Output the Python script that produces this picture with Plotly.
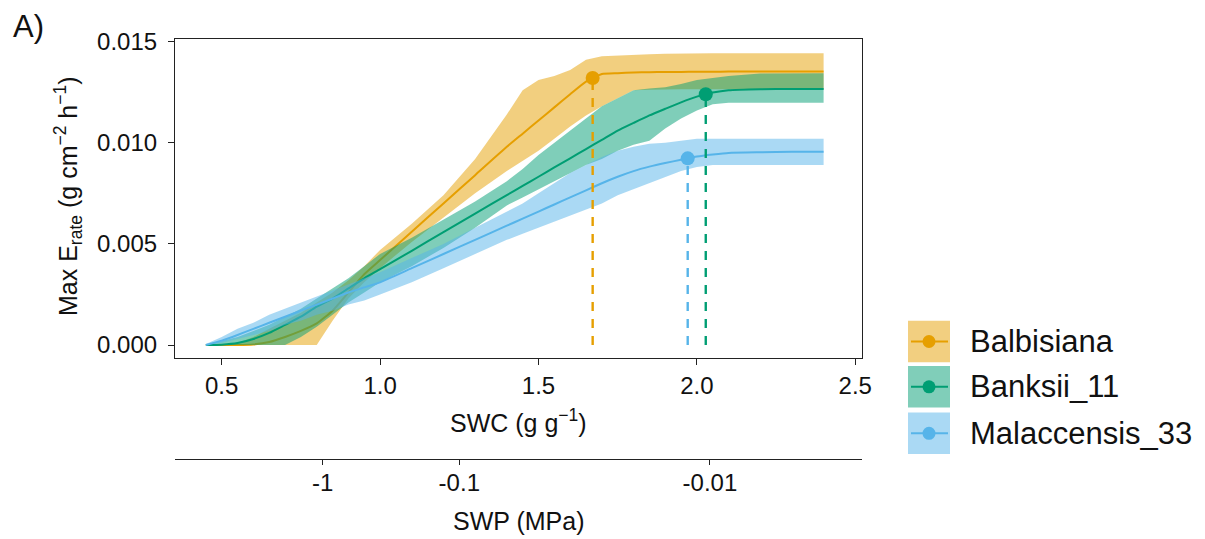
import plotly.graph_objects as go

# Soil water content grid (g g-1) shared by all fitted curves
swc = [0.45, 0.5, 0.55, 0.6, 0.65, 0.7, 0.75, 0.8, 0.85, 0.9, 0.95, 1.0,
       1.1, 1.2, 1.3, 1.4, 1.45, 1.5, 1.55, 1.6, 1.65, 1.7, 1.75, 1.8,
       1.85, 1.9, 1.95, 2.0, 2.05, 2.1, 2.2, 2.3, 2.4]

# Max transpiration rate (g cm-2 h-1): fit and confidence band per genotype
bal_lo = [0, 0, 0, 0, 0, 0, 0, 0, 0.0012, 0.0023, 0.0031, 0.0038,
          0.0051, 0.0063, 0.0075, 0.0086, 0.0091, 0.0096, 0.0102, 0.0108, 0.01135,
          0.0118, 0.0122, 0.0126, 0.01262, 0.01264, 0.01264, 0.01264, 0.01264,
          0.01264, 0.01264, 0.01264, 0.01264]
bal_fit = [0, 0, 0, 0.00003, 0.00015, 0.0004, 0.0007, 0.00107, 0.0017, 0.0026, 0.0035, 0.0042,
           0.0056, 0.0070, 0.0084, 0.0098, 0.01045, 0.0111, 0.01175, 0.0124, 0.01302,
           0.0134, 0.01344, 0.01347, 0.01349, 0.0135, 0.0135, 0.01351, 0.01351,
           0.01352, 0.01352, 0.01352, 0.01352]
bal_hi = [0, 0, 0.0001, 0.0004, 0.0008, 0.0012, 0.0016, 0.0021, 0.0026, 0.0032, 0.0039, 0.0047,
          0.0060, 0.0074, 0.0092, 0.0114, 0.0126, 0.0131, 0.0133, 0.0136, 0.0141,
          0.01428, 0.01432, 0.01435, 0.01438, 0.0144, 0.01442, 0.01443, 0.01443,
          0.01443, 0.01443, 0.01443, 0.01443]

ban_lo = [0, 0, 0, 0, 0, 0, 0.0004, 0.0009, 0.0015, 0.0021, 0.0026, 0.0031,
          0.0039, 0.0048, 0.0058, 0.0069, 0.0073, 0.0077, 0.0081, 0.0085, 0.0089,
          0.0092, 0.0096, 0.0099, 0.0101, 0.0107, 0.0112, 0.0116, 0.0119,
          0.01198, 0.01198, 0.01198, 0.01198]
ban_fit = [0, 0.00002, 0.0001, 0.0003, 0.0006, 0.0010, 0.0014, 0.0019, 0.0023, 0.0028, 0.0033, 0.00375,
           0.00466, 0.00558, 0.0065, 0.00741, 0.00787, 0.00832, 0.00878, 0.00923, 0.00969,
           0.01014, 0.0106, 0.01098, 0.01135, 0.01168, 0.0120, 0.01228, 0.01248,
           0.0126, 0.01265, 0.01266, 0.01266]
ban_hi = [0, 0.0002, 0.0004, 0.0007, 0.0010, 0.0014, 0.0018, 0.0023, 0.0028, 0.0033, 0.0039, 0.0045,
          0.0053, 0.0062, 0.0071, 0.0081, 0.0087, 0.0094, 0.0100, 0.0106, 0.0112,
          0.0118, 0.0122, 0.0126, 0.01268, 0.01275, 0.0129, 0.0131, 0.0132,
          0.0133, 0.01342, 0.01344, 0.01344]

mal_lo = [0, 0.0001, 0.0003, 0.0005, 0.0007, 0.0010, 0.0012, 0.0015, 0.0017, 0.0020, 0.0022, 0.0025,
          0.0031, 0.0038, 0.0045, 0.0052, 0.0055, 0.0058, 0.0061, 0.0064, 0.0067,
          0.0070, 0.0074, 0.0077, 0.0080, 0.0083, 0.0086, 0.0088, 0.0089,
          0.0089, 0.0089, 0.0089, 0.0089]
mal_fit = [0, 0.00022, 0.0005, 0.0008, 0.0011, 0.0014, 0.0017, 0.0020, 0.0023, 0.0026, 0.00285, 0.0031,
           0.0038, 0.0045, 0.0052, 0.0059, 0.00625, 0.0066, 0.00695, 0.0073, 0.00765,
           0.0080, 0.00832, 0.0086, 0.00882, 0.0090, 0.00916, 0.00932, 0.00942,
           0.0095, 0.00953, 0.00955, 0.00956]
mal_hi = [0.00005, 0.0004, 0.0008, 0.0011, 0.0015, 0.0018, 0.0021, 0.0024, 0.0027, 0.0030, 0.0033, 0.0036,
          0.0043, 0.0050, 0.0058, 0.0066, 0.0070, 0.0075, 0.0080, 0.0085, 0.0089,
          0.0093, 0.0096, 0.0098, 0.00995, 0.0100, 0.0101, 0.0102, 0.0102,
          0.0102, 0.0102, 0.0102, 0.0102]

genotypes = ["Balbisiana", "Banksii_11", "Malaccensis_33"]
colors = ["#E69F00", "#009E73", "#56B4E9"]
fills = ["rgba(230,159,0,0.5)", "rgba(0,158,115,0.5)", "rgba(86,180,233,0.5)"]
key_fills = ["#F2CF80", "#80CEB9", "#AAD9F4"]

# Breakpoint of each curve (SWC, max E rate)
opt_swc = [1.671, 2.028, 1.971]
opt_e = [0.0132, 0.0124, 0.00923]

# Soil water potential (MPa) labels placed at their equivalent SWC
swp_labels = ["-1", "-0.1", "-0.01"]
swp_at_swc = [0.819, 1.250, 2.041]

swc_ticks = [0.5, 1.0, 1.5, 2.0, 2.5]
e_ticks = [0.0, 0.005, 0.010, 0.015]

FONT = "Liberation Sans, Arial, sans-serif"
INK = "#111111"
AXIS = "#222222"

bands = [(bal_lo, bal_fit, bal_hi), (ban_lo, ban_fit, ban_hi), (mal_lo, mal_fit, mal_hi)]

fig = go.Figure()
for name, col, fc, (lo, fit, hi) in zip(genotypes, colors, fills, bands):
    fig.add_trace(go.Scatter(x=swc, y=lo, mode="lines", line=dict(width=0),
                             hoverinfo="skip", showlegend=False))
    fig.add_trace(go.Scatter(x=swc, y=hi, mode="lines", line=dict(width=0),
                             fill="tonexty", fillcolor=fc, hoverinfo="skip", showlegend=False))
    fig.add_trace(go.Scatter(x=swc, y=fit, mode="lines", name=name,
                             line=dict(color=col, width=2, shape="spline", smoothing=0.5),
                             showlegend=False))

# Dashed drop lines from each breakpoint to zero
for xo, yo, col in zip(opt_swc, opt_e, colors):
    fig.add_trace(go.Scatter(x=[xo, xo], y=[0, yo], mode="lines",
                             line=dict(color=col, width=2.4, dash="9px,8px"),
                             hoverinfo="skip", showlegend=False))

fig.add_trace(go.Scatter(x=opt_swc, y=opt_e, mode="markers",
                         marker=dict(color=colors, size=14, line=dict(width=0)),
                         showlegend=False))

# Empty trace that carries the SWP axis
fig.add_trace(go.Scatter(x=swp_at_swc, y=[None] * len(swp_at_swc), xaxis="x2",
                         mode="markers", showlegend=False, hoverinfo="skip"))

x_range = [0.3526, 2.5212]

fig.update_layout(
    width=1205, height=539,
    margin=dict(l=175, r=343, t=39, b=80),
    plot_bgcolor="white", paper_bgcolor="white",
    showlegend=False,
    font=dict(family=FONT, size=24, color=INK),
    xaxis=dict(
        range=x_range, tickvals=swc_ticks, ticktext=[f"{v:.1f}" for v in swc_ticks],
        showgrid=False, zeroline=False, showline=True, linecolor=AXIS, linewidth=1.2,
        mirror=True, ticks="outside", ticklen=6, tickwidth=1.2, tickcolor=AXIS,
        tickfont=dict(size=24, color=INK), anchor="y",
    ),
    xaxis2=dict(
        range=x_range, overlaying="x", anchor="free", position=0, side="bottom",
        tickvals=swp_at_swc, ticktext=swp_labels,
        showgrid=False, zeroline=False, showline=True, linecolor=AXIS, linewidth=1.2,
        ticks="outside", ticklen=5, tickwidth=1.2, tickcolor=AXIS,
        tickfont=dict(size=24, color=INK), ticklabelstandoff=-3,
    ),
    yaxis=dict(
        range=[-0.00065, 0.01513], domain=[0.24, 1.0],
        tickvals=e_ticks, ticktext=[f"{v:.3f}" for v in e_ticks],
        showgrid=False, zeroline=False, showline=True, linecolor=AXIS, linewidth=1.2,
        mirror=True, ticks="outside", ticklen=6, tickwidth=1.2, tickcolor=AXIS,
        tickfont=dict(size=24, color=INK), ticklabelstandoff=6,
    ),
)

# Pixel helpers for the plot area (175..862 x, 39..459 y)
def px_x(p):
    return (p - 175) / 687.0

def px_y(p):
    return (459 - p) / 420.0

annotations = [
    dict(text="A)", x=px_x(11), y=px_y(26), xanchor="left", yanchor="middle",
         font=dict(size=31, color=INK)),
    dict(text="Max E<sub>rate</sub> (g cm<sup>\u22122</sup> h<sup>\u22121</sup>)",
         x=px_x(68), y=px_y(196), xanchor="center", yanchor="middle", textangle=-90,
         font=dict(size=25, color=INK)),
    dict(text="SWC (g g<sup>\u22121</sup>)", x=0.5, y=px_y(421),
         xanchor="center", yanchor="middle", font=dict(size=25, color=INK)),
    dict(text="SWP (MPa)", x=0.5, y=px_y(521),
         xanchor="center", yanchor="middle", font=dict(size=25, color=INK)),
]

shapes = []
row_centers = [341.5, 386.8, 433.3]
for name, col, kf, rc in zip(genotypes, colors, key_fills, row_centers):
    common = dict(xref="paper", yref="paper", xsizemode="pixel", ysizemode="pixel",
                  xanchor=px_x(929), yanchor=px_y(rc))
    shapes.append(dict(type="rect", x0=-21, x1=21, y0=-20.8, y1=20.8,
                       fillcolor=kf, line=dict(width=0), **common))
    shapes.append(dict(type="line", x0=-18, x1=19, y0=0, y1=0,
                       line=dict(color=col, width=2), **common))
    shapes.append(dict(type="circle", x0=-6.5, x1=6.5, y0=-6.5, y1=6.5,
                       fillcolor=col, line=dict(width=0), **common))
    annotations.append(dict(text=name, x=px_x(968), y=px_y(rc), xanchor="left",
                            yanchor="middle", font=dict(size=31, color=INK)))

for a in annotations:
    a.update(xref="paper", yref="paper", showarrow=False)

fig.update_layout(annotations=annotations, shapes=shapes)

fig.write_html("out.html", config={"displayModeBar": False})
